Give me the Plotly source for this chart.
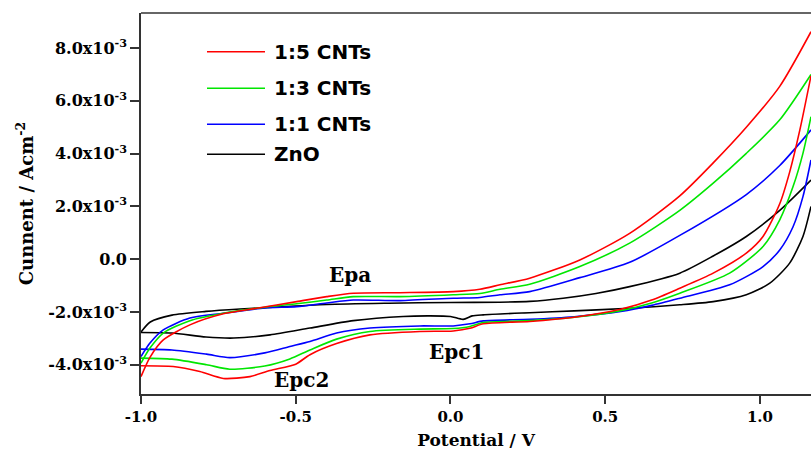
import plotly.graph_objects as go

# ---------------- data (potential in V, current density in mA/cm^2 -> scaled to A/cm^2) -------------
# ZnO
V_ZNO_FWD = [-1.0, -0.97, -0.9, -0.79, -0.68, -0.6, -0.4, -0.2, 0.0, 0.16, 0.256, 0.364, 0.47, 0.579, 0.741, 0.849, 0.956, 1.064, 1.165]
I_ZNO_FWD = [-2.76, -2.38, -2.12, -1.98, -1.89, -1.84, -1.72, -1.67, -1.64, -1.63, -1.60, -1.48, -1.30, -1.04, -0.53, 0.12, 0.86, 1.85, 3.0]
V_ZNO_REV = [1.165, 1.139, 1.096, 1.032, 0.956, 0.849, 0.741, 0.579, 0.4, 0.256, 0.106, 0.07, 0.041, 0.0, -0.07, -0.153, -0.314, -0.454, -0.583, -0.7, -0.79, -0.9, -1.0]
I_ZNO_REV = [2.0, 0.86, -0.15, -0.91, -1.35, -1.61, -1.73, -1.86, -1.96, -2.03, -2.11, -2.15, -2.28, -2.17, -2.15, -2.17, -2.33, -2.61, -2.87, -2.99, -2.95, -2.80, -2.78]

# 1:5 CNTs
V_R_FWD = [-1.0, -0.971, -0.928, -0.842, -0.734, -0.626, -0.497, -0.4, -0.314, -0.163, 0.009, 0.095, 0.16, 0.256, 0.418, 0.579, 0.741, 0.849, 0.956, 1.064, 1.165]
I_R_FWD = [-4.45, -3.72, -3.06, -2.49, -2.07, -1.86, -1.61, -1.42, -1.29, -1.27, -1.23, -1.14, -0.97, -0.72, -0.03, 0.98, 2.40, 3.65, 5.0, 6.55, 8.62]
V_R_REV = [1.165, 1.129, 1.096, 1.064, 1.01, 0.956, 0.849, 0.741, 0.65, 0.55, 0.4, 0.256, 0.106, 0.063, 0.009, -0.099, -0.26, -0.368, -0.454, -0.5, -0.583, -0.648, -0.734, -0.81, -0.896, -1.0]
I_R_REV = [6.95, 4.9, 3.3, 2.1, 0.86, 0.23, -0.53, -1.10, -1.55, -1.90, -2.20, -2.36, -2.45, -2.62, -2.72, -2.74, -2.87, -3.20, -3.62, -3.98, -4.22, -4.45, -4.52, -4.26, -4.07, -4.04]

# 1:3 CNTs
V_G_FWD = [-1.0, -0.971, -0.928, -0.842, -0.734, -0.6, -0.497, -0.4, -0.314, -0.163, 0.009, 0.095, 0.16, 0.256, 0.418, 0.579, 0.741, 0.849, 0.956, 1.064, 1.165]
I_G_FWD = [-3.94, -3.37, -2.80, -2.33, -2.05, -1.82, -1.69, -1.55, -1.42, -1.42, -1.35, -1.30, -1.14, -0.95, -0.28, 0.61, 1.85, 2.88, 4.01, 5.28, 7.0]
V_G_REV = [1.165, 1.139, 1.107, 1.064, 1.01, 0.902, 0.741, 0.65, 0.55, 0.4, 0.256, 0.106, 0.063, 0.009, -0.099, -0.26, -0.368, -0.454, -0.519, -0.6, -0.713, -0.788, -0.9, -1.0]
I_G_REV = [5.4, 4.01, 2.75, 1.49, 0.48, -0.53, -1.29, -1.66, -1.95, -2.20, -2.33, -2.40, -2.55, -2.63, -2.65, -2.74, -3.03, -3.44, -3.78, -4.05, -4.17, -4.0, -3.79, -3.75]

# 1:1 CNTs
V_B_FWD = [-1.0, -0.971, -0.928, -0.842, -0.734, -0.6, -0.497, -0.4, -0.314, -0.163, 0.009, 0.095, 0.16, 0.256, 0.418, 0.579, 0.741, 0.956, 1.064, 1.165]
I_B_FWD = [-3.69, -3.18, -2.68, -2.23, -2.05, -1.85, -1.80, -1.66, -1.55, -1.57, -1.48, -1.45, -1.35, -1.23, -0.70, -0.12, 0.90, 2.45, 3.55, 4.9]
V_B_REV = [1.165, 1.139, 1.107, 1.064, 1.01, 0.902, 0.741, 0.65, 0.55, 0.4, 0.256, 0.106, 0.063, 0.009, -0.099, -0.26, -0.368, -0.454, -0.519, -0.6, -0.713, -0.788, -0.9, -1.0]
I_B_REV = [3.76, 2.37, 1.23, 0.35, -0.28, -0.97, -1.48, -1.75, -1.98, -2.18, -2.28, -2.34, -2.45, -2.53, -2.53, -2.61, -2.80, -3.12, -3.31, -3.55, -3.73, -3.60, -3.44, -3.41]

LABELS = ["1:5 CNTs", "1:3 CNTs", "1:1 CNTs", "ZnO"]
COLORS = ["#ff0000", "#00e600", "#0000ff", "#000000"]

X_TICKS = [-1.0, -0.5, 0.0, 0.5, 1.0]
X_TICKTEXT = ["-1.0", "-0.5", "0.0", "0.5", "1.0"]
Y_TICKS = [-4e-3, -2e-3, 0.0, 2e-3, 4e-3, 6e-3, 8e-3]
Y_TICKTEXT = ["-4.0x10<sup>-3</sup>", "-2.0x10<sup>-3</sup>", "0.0", "2.0x10<sup>-3</sup>",
              "4.0x10<sup>-3</sup>", "6.0x10<sup>-3</sup>", "8.0x10<sup>-3</sup>"]

SERIES = [
    (V_R_FWD, I_R_FWD, V_R_REV, I_R_REV),
    (V_G_FWD, I_G_FWD, V_G_REV, I_G_REV),
    (V_B_FWD, I_B_FWD, V_B_REV, I_B_REV),
    (V_ZNO_FWD, I_ZNO_FWD, V_ZNO_REV, I_ZNO_REV),
]

SERIF = "DejaVu Serif, Liberation Serif, serif"
SANS = "DejaVu Sans, Liberation Sans, sans-serif"

fig = go.Figure()
for idx in [3, 2, 1, 0]:
    vf, i_f, vr, i_r = SERIES[idx]
    xs = list(vf) + [None] + list(vr)
    ys = [v * 1e-3 for v in i_f] + [None] + [v * 1e-3 for v in i_r]
    fig.add_trace(go.Scatter(
        x=xs, y=ys, mode="lines", name=LABELS[idx],
        line=dict(color=COLORS[idx], width=1.6, shape="spline", smoothing=0.7),
        connectgaps=False, showlegend=False, hoverinfo="skip",
    ))

L, R, T, B = 141, 0, 13, 56
W, H = 811, 450
pw, ph = W - L - R, H - T - B

def px2paper(px, py):
    return (px - L) / pw, (H - B - py) / ph

shapes = []
annotations = []
shapes.append(dict(type="line", xref="paper", yref="paper", x0=0, x1=1, y0=1, y1=1,
                   line=dict(color="#333333", width=1.6)))
leg_y = [51.7, 88.3, 124.3, 154.3]
for k in range(4):
    x0, yy = px2paper(207, leg_y[k])
    x1, _ = px2paper(265, leg_y[k])
    xt, _ = px2paper(272, leg_y[k])
    shapes.append(dict(type="line", xref="paper", yref="paper", x0=x0, x1=x1, y0=yy, y1=yy,
                       line=dict(color=COLORS[k], width=1.6)))
    annotations.append(dict(text=LABELS[k], xref="paper", yref="paper", x=xt, y=yy,
                            xanchor="left", yanchor="middle", showarrow=False,
                            font=dict(family=SANS, size=20, color="black", weight="bold")))

for txt, xv, yv in [("Epa", -0.325, -0.6e-3), ("Epc1", 0.021, -3.51e-3), ("Epc2", -0.48, -4.57e-3)]:
    annotations.append(dict(text=txt, x=xv, y=yv, xref="x", yref="y", showarrow=False,
                            xanchor="center", yanchor="middle",
                            font=dict(family=SERIF, size=20, color="black", weight="bold")))

fig.update_layout(
    width=W, height=H,
    margin=dict(l=L, r=R, t=T, b=B, pad=0),
    paper_bgcolor="white", plot_bgcolor="white",
    showlegend=False,
    shapes=shapes, annotations=annotations,
    font=dict(family=SERIF, color="black"),
)
fig.update_xaxes(
    range=[-1.0, 1.165], tickvals=X_TICKS, ticktext=X_TICKTEXT,
    showgrid=False, zeroline=False, showline=True, linecolor="#333333", linewidth=1.6,
    ticks="outside", ticklen=8, tickwidth=1.6, tickcolor="#333333",
    tickfont=dict(family=SERIF, size=15, color="black", weight="bold"),
    title=dict(text="Potential / V", standoff=12,
               font=dict(family=SERIF, size=17, color="black", weight="bold")),
    automargin=False,
)
fig.update_yaxes(
    range=[-5.11e-3, 9.33e-3], tickvals=Y_TICKS, ticktext=Y_TICKTEXT,
    showgrid=False, zeroline=False, showline=True, linecolor="#333333", linewidth=1.6,
    ticks="outside", ticklen=9, tickwidth=1.6, tickcolor="#333333",
    tickfont=dict(family=SERIF, size=16, color="black", weight="bold"),
    title=dict(text="Cunnent / Acm<sup>-2</sup>", standoff=10,
               font=dict(family=SERIF, size=18, color="black", weight="bold")),
    automargin=False,
)

fig.write_html("out.html")
